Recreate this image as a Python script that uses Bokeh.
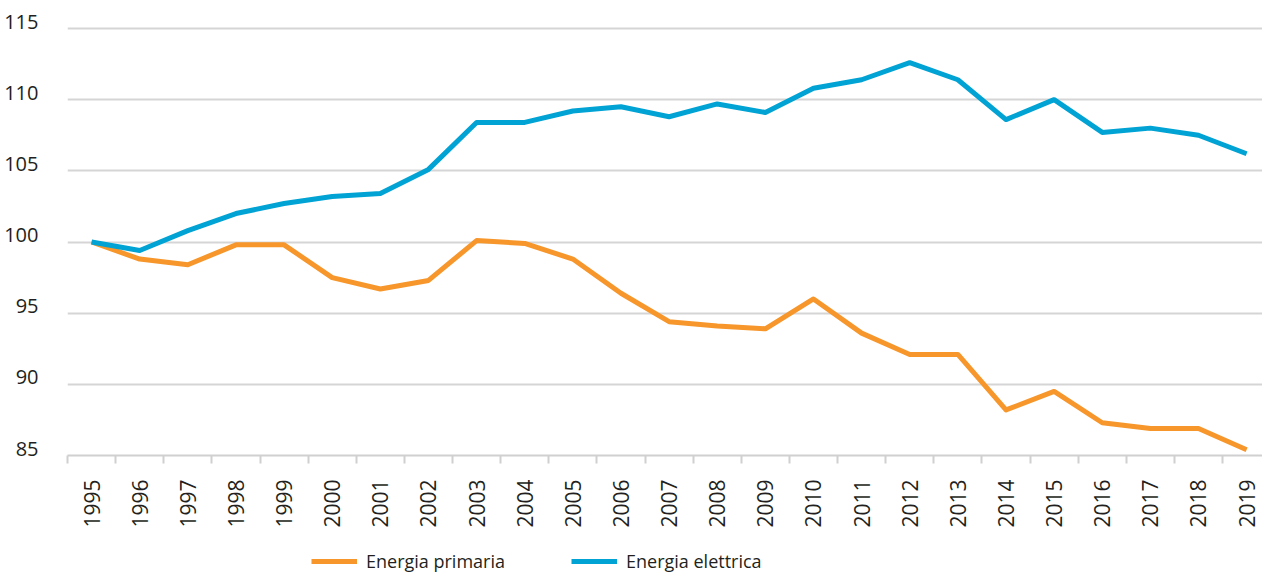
from bokeh.plotting import figure
from bokeh.models import Range1d, FixedTicker, Legend, LegendItem, ColumnDataSource, LinearAxis
from bokeh.layouts import column
from bokeh.embed import file_html
from bokeh.resources import INLINE
import math

years = list(range(1995, 2020))
energia_primaria = [100.0, 98.8, 98.4, 99.8, 99.8, 97.5, 96.7, 97.3, 100.1, 99.9,
                    98.8, 96.4, 94.4, 94.1, 93.9, 96.0, 93.6, 92.1, 92.1, 88.2,
                    89.5, 87.3, 86.9, 86.9, 85.4]
energia_elettrica = [100.0, 99.4, 100.8, 102.0, 102.7, 103.2, 103.4, 105.1, 108.4, 108.4,
                     109.2, 109.5, 108.8, 109.7, 109.1, 110.8, 111.4, 112.6, 111.4, 108.6,
                     110.0, 107.7, 108.0, 107.5, 106.2]
y_ticks = [85, 90, 95, 100, 105, 110, 115]
series_names = ["Energia primaria", "Energia elettrica"]
colors = ["#F7962A", "#00A3D4"]

FONT = "Open Sans"
TXT = "#231f20"
H, TOP, BOTTOM, LEFT = 530, 21, 75, 67
LIFT = 7  # px the tick labels sit above their gridlines

k = (H - TOP - BOTTOM - LIFT) / (y_ticks[-1] - y_ticks[0])
d = LIFT / k

p = figure(width=1262, height=H, output_backend="svg", toolbar_location=None,
           x_range=Range1d(years[0] - 0.5, years[-1] + 0.33),
           y_range=Range1d(y_ticks[0], y_ticks[-1] + d),
           min_border_top=TOP, min_border_left=LEFT, min_border_right=0, min_border_bottom=BOTTOM)
p.outline_line_color = None
p.extra_y_ranges = {"lbl": Range1d(y_ticks[0] - d, y_ticks[-1])}

src = ColumnDataSource(dict(year=years, prim=energia_primaria, elet=energia_elettrica))
p.line("year", "prim", source=src, line_color=colors[0], line_width=5, line_join="round")
p.line("year", "elet", source=src, line_color=colors[1], line_width=5, line_join="round")

# x axis
xa = p.xaxis[0]
xa.ticker = FixedTicker(ticks=years, minor_ticks=[y - 0.5 for y in years] + [years[-1] + 0.5])
xa.major_tick_out = 0
xa.major_tick_in = 0
xa.minor_tick_out = 8
xa.minor_tick_in = 0
xa.minor_tick_line_color = "#d0d0d0"
xa.minor_tick_line_width = 2
xa.axis_line_color = "#d0d0d0"
xa.axis_line_width = 2
xa.major_label_orientation = math.pi / 2
xa.major_label_standoff = 16
xa.major_label_text_font = FONT
xa.major_label_text_font_size = "21px"
xa.major_label_text_color = TXT

# y axis: default hidden; label axis on a shifted range so labels sit above gridlines
p.yaxis.visible = False
p.xgrid.grid_line_color = None
p.ygrid.ticker = FixedTicker(ticks=y_ticks)
p.ygrid.grid_line_color = "#d5d5d5"
p.ygrid.grid_line_width = 2

ya = LinearAxis(y_range_name="lbl", ticker=FixedTicker(ticks=y_ticks))
ya.axis_line_color = None
ya.major_tick_line_color = None
ya.minor_tick_line_color = None
ya.major_label_standoff = 23
ya.major_label_text_font = FONT
ya.major_label_text_font_size = "20px"
ya.major_label_text_color = TXT
p.add_layout(ya, "left")

# legend strip (its frame is aligned with the main frame's left edge)
lg = figure(width=1262, height=43, output_backend="svg", toolbar_location=None,
            x_range=Range1d(0, 1), y_range=Range1d(0, 1),
            x_axis_type=None, y_axis_type=None,
            min_border_top=0, min_border_left=0, min_border_right=0, min_border_bottom=0)
lg.outline_line_color = None
lg.xgrid.grid_line_color = None
lg.ygrid.grid_line_color = None
k1 = lg.line(x=[-3, -2], y=[-3, -3], line_color=colors[0], line_width=5)
k2 = lg.line(x=[-3, -2], y=[-3, -3], line_color=colors[1], line_width=5)
legend = Legend(items=[LegendItem(label=series_names[0], renderers=[k1]),
                       LegendItem(label=series_names[1], renderers=[k2])],
                orientation="horizontal", location=(244, 0),
                label_text_font=FONT, label_text_font_size="18px", label_text_color=TXT,
                glyph_width=46, glyph_height=20, label_standoff=9, spacing=66,
                padding=0, margin=0, border_line_color=None, background_fill_alpha=0,
                label_height=20)
lg.add_layout(legend, "center")

layout = column(p, lg, spacing=0)
open("out.html", "w").write(file_html(layout, INLINE))
